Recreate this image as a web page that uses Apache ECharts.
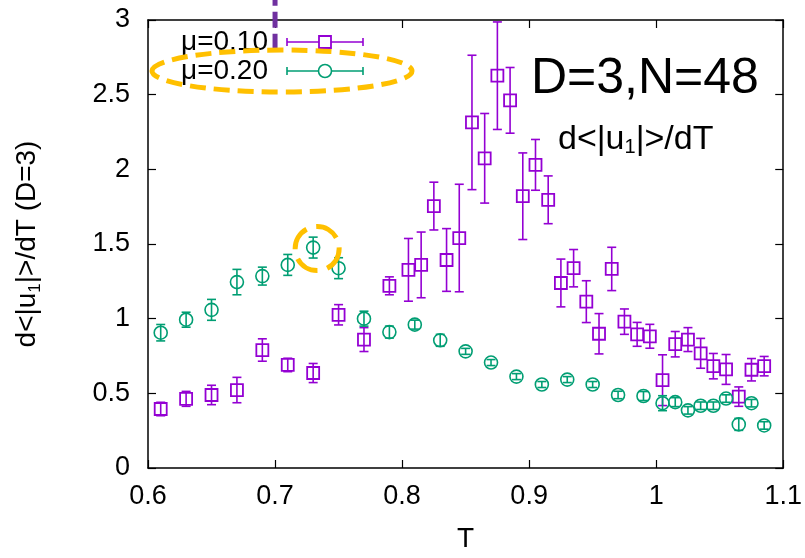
<!DOCTYPE html>
<html>
<head>
<meta charset="utf-8">
<script src="https://cdn.jsdelivr.net/npm/echarts@6/dist/echarts.min.js"></script>
<style>
  html, body { margin: 0; padding: 0; background: #ffffff; }
  #chart { width: 805px; height: 558px; }
</style>
</head>
<body>
<div id="chart"></div>
<script>
// mu = 0.10 : temperature, d<|u1|>/dT and its error
const tMu010 = [0.61, 0.63, 0.65, 0.67, 0.69, 0.71, 0.73, 0.75, 0.77, 0.79,
  0.805, 0.815, 0.825, 0.835, 0.845, 0.855, 0.865, 0.875, 0.885, 0.895,
  0.905, 0.915, 0.925, 0.935, 0.945, 0.955, 0.965, 0.975, 0.985, 0.995,
  1.005, 1.015, 1.025, 1.035, 1.045, 1.055, 1.065, 1.075, 1.085];
const vMu010 = [0.395, 0.463, 0.489, 0.522, 0.79, 0.69, 0.636, 1.026, 0.86, 1.22,
  1.327, 1.36, 1.754, 1.393, 1.54, 2.314, 2.074, 2.627, 2.462, 1.82,
  2.03, 1.796, 1.239, 1.338, 1.114, 0.899, 1.333, 0.98, 0.895, 0.882,
  0.588, 0.829, 0.86, 0.768, 0.682, 0.66, 0.478, 0.658, 0.682];
const eMu010 = [0.045, 0.05, 0.065, 0.085, 0.075, 0.045, 0.064, 0.068, 0.08, 0.06,
  0.21, 0.22, 0.16, 0.21, 0.36, 0.45, 0.3, 0.36, 0.22, 0.29,
  0.17, 0.16, 0.16, 0.125, 0.14, 0.135, 0.145, 0.085, 0.08, 0.08,
  0.17, 0.085, 0.08, 0.1, 0.085, 0.1, 0.065, 0.075, 0.065];

// mu = 0.20
const tMu020 = [0.61, 0.63, 0.65, 0.67, 0.69, 0.71, 0.73, 0.75, 0.77, 0.79,
  0.81, 0.83, 0.85, 0.87, 0.89, 0.91, 0.93, 0.95, 0.97, 0.99,
  1.005, 1.015, 1.025, 1.035, 1.045, 1.055, 1.065, 1.075, 1.085];
const vMu020 = [0.906, 0.993, 1.059, 1.245, 1.285, 1.36, 1.476, 1.338, 1.0, 0.91,
  0.96, 0.855, 0.781, 0.706, 0.612, 0.559, 0.592, 0.559, 0.489, 0.482,
  0.434, 0.441, 0.386, 0.417, 0.417, 0.465, 0.292, 0.434, 0.285];
const eMu020 = [0.055, 0.05, 0.07, 0.085, 0.06, 0.07, 0.07, 0.07, 0.05, 0.04,
  0.03, 0.04, 0.02, 0.02, 0.02, 0.02, 0.02, 0.02, 0.025, 0.03,
  0.05, 0.03, 0.025, 0.025, 0.025, 0.025, 0.04, 0.025, 0.025];

// axis ranges and tick steps
const xRange = [0.6, 1.1];
const xStep = 0.1;
const yRange = [0, 3];
const yStep = 0.5;

const seriesNames = ['\u03bc=0.10', '\u03bc=0.20'];
const PURPLE = '#9400D3';
const GREEN = '#009E73';
const ORANGE = '#FFC000';
const FONT = '"Liberation Sans", Arial, sans-serif';

function rows(t, v, e) {
  return t.map((x, i) => [x, v[i], e[i]]);
}

// vertical error bar with caps plus a hollow marker
function errorBarRenderer(shape, color) {
  return function (params, api) {
    const t = api.value(0), v = api.value(1), e = api.value(2);
    const c = api.coord([t, v]);
    const hi = api.coord([t, v + e]);
    const lo = api.coord([t, v - e]);
    const cap = 4.5;
    const line = { stroke: color, lineWidth: 1.6 };
    const children = [
      { type: 'line', shape: { x1: c[0], y1: hi[1], x2: c[0], y2: lo[1] }, style: line },
      { type: 'line', shape: { x1: c[0] - cap, y1: hi[1], x2: c[0] + cap, y2: hi[1] }, style: line },
      { type: 'line', shape: { x1: c[0] - cap, y1: lo[1], x2: c[0] + cap, y2: lo[1] }, style: line }
    ];
    if (shape === 'square') {
      children.push({ type: 'rect', shape: { x: c[0] - 6, y: c[1] - 6, width: 12, height: 12 },
        style: { stroke: color, lineWidth: 1.8, fill: 'none' } });
    } else {
      children.push({ type: 'circle', shape: { cx: c[0], cy: c[1], r: 6.5 },
        style: { stroke: color, lineWidth: 1.6, fill: 'none' } });
    }
    return { type: 'group', children };
  };
}

const fmt = v => String(+v.toFixed(2));

const axisCommon = {
  type: 'value',
  splitLine: { show: false },
  axisLine: { show: true, onZero: false, lineStyle: { color: '#000', width: 1.5 } },
  axisTick: { show: true, inside: true, length: 8, lineStyle: { color: '#000', width: 1.2 } },
  minorTick: { show: false }
};

const chart = echarts.init(document.getElementById('chart'), null, { renderer: 'canvas' });

chart.setOption({
  animation: false,
  backgroundColor: '#ffffff',
  grid: { left: 148, right: 19, top: 20, bottom: 82, containLabel: false },
  xAxis: [
    Object.assign({}, axisCommon, {
      position: 'bottom', min: xRange[0], max: xRange[1], interval: xStep,
      name: 'T', nameLocation: 'middle', nameGap: 57,
      nameTextStyle: { fontFamily: FONT, fontSize: 28, color: '#000' },
      axisLabel: { margin: 15, fontFamily: FONT, fontSize: 27, color: '#000', formatter: fmt }
    }),
    Object.assign({}, axisCommon, {
      position: 'top', min: xRange[0], max: xRange[1], interval: xStep,
      axisLabel: { show: false }
    })
  ],
  yAxis: [
    Object.assign({}, axisCommon, {
      position: 'left', min: yRange[0], max: yRange[1], interval: yStep,
      name: 'd<|u{s|1}|>/dT (D=3)', nameLocation: 'middle', nameGap: 104, nameRotate: 90,
      nameTextStyle: {
        fontFamily: FONT, fontSize: 28, color: '#000', lineHeight: 34,
        rich: { s: { fontFamily: FONT, fontSize: 17, verticalAlign: 'bottom', lineHeight: 26 } }
      },
      axisLabel: { margin: 18, fontFamily: FONT, fontSize: 27, color: '#000', formatter: fmt }
    }),
    Object.assign({}, axisCommon, {
      position: 'right', min: yRange[0], max: yRange[1], interval: yStep,
      axisLabel: { show: false }
    })
  ],
  series: [
    {
      name: seriesNames[0], type: 'custom', xAxisIndex: 0, yAxisIndex: 0,
      data: rows(tMu010, vMu010, eMu010),
      encode: { x: 0, y: 1 },
      clip: false,
      renderItem: errorBarRenderer('square', PURPLE)
    },
    {
      name: seriesNames[1], type: 'custom', xAxisIndex: 0, yAxisIndex: 0,
      data: rows(tMu020, vMu020, eMu020),
      encode: { x: 0, y: 1 },
      clip: false,
      renderItem: errorBarRenderer('circle', GREEN)
    }
  ]
});

// key entries: label, error bar sample and marker
function keyEntry(label, y, color, shape) {
  const line = { stroke: color, lineWidth: 1.6 };
  const x1 = 287, x2 = 363, xm = 325;
  const marker = shape === 'square'
    ? { type: 'rect', shape: { x: xm - 6, y: y - 6, width: 12, height: 12 }, style: { stroke: color, lineWidth: 1.8, fill: '#fff' } }
    : { type: 'circle', shape: { cx: xm, cy: y, r: 6.5 }, style: { stroke: color, lineWidth: 1.6, fill: '#fff' } };
  return [
    { type: 'text', x: 268, y: y, style: { text: label, fontFamily: FONT, fontSize: 28, fill: '#000', align: 'right', verticalAlign: 'middle' } },
    { type: 'line', shape: { x1: x1, y1: y, x2: x2, y2: y }, style: line },
    { type: 'line', shape: { x1: x1, y1: y - 4, x2: x1, y2: y + 4 }, style: line },
    { type: 'line', shape: { x1: x2, y1: y - 4, x2: x2, y2: y + 4 }, style: line },
    marker
  ];
}

const peak = chart.convertToPixel({ xAxisIndex: 0, yAxisIndex: 0 }, [0.73, 1.476]);
const markX = chart.convertToPixel({ xAxisIndex: 0 }, 0.7);
const markBottom = chart.convertToPixel({ yAxisIndex: 0 }, 2.8);

chart.setOption({
  graphic: [].concat(
    keyEntry(seriesNames[0], 42, PURPLE, 'square'),
    keyEntry(seriesNames[1], 71, GREEN, 'circle'),
    [
      // dashed marker at T = 0.7, drawn upward from its lower end
      { type: 'line', z: 100, shape: { x1: markX, y1: markBottom, x2: markX, y2: 0 },
        style: { stroke: '#7030A0', lineWidth: 5, lineDash: [16, 6] } },
      { type: 'ellipse', z: 100, shape: { cx: 282, cy: 71, rx: 130, ry: 21 },
        style: { stroke: ORANGE, lineWidth: 5, lineDash: [16, 8], fill: 'none' } },
      { type: 'circle', z: 100, shape: { cx: peak[0] + 4, cy: peak[1] + 1, r: 22 },
        style: { stroke: ORANGE, lineWidth: 5, lineDash: [24, 10], fill: 'none' } },
      { type: 'text', x: 531, y: 79, style: { text: 'D=3,N=48', fontFamily: FONT, fontSize: 50, fill: '#000', align: 'left', verticalAlign: 'middle' } },
      { type: 'text', x: 558, y: 140, style: {
          text: 'd<|u{s|1}|>/dT', fontFamily: FONT, fontSize: 34, fill: '#000', align: 'left', verticalAlign: 'middle',
          rich: { s: { fontFamily: FONT, fontSize: 20, verticalAlign: 'bottom', lineHeight: 30 } }
        } }
    ]
  )
});
</script>
</body>
</html>
